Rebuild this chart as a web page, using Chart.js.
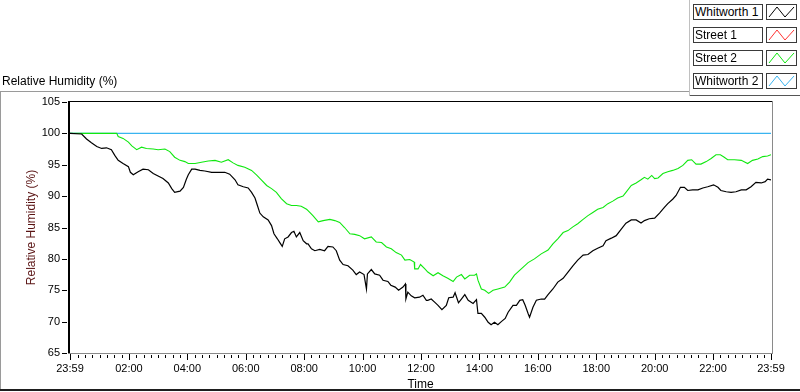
<!DOCTYPE html>
<html>
<head>
<meta charset="utf-8">
<script src="https://cdn.jsdelivr.net/npm/chart.js@4/dist/chart.umd.min.js"></script>
<style>
  html,body{margin:0;padding:0;background:#fff;}
  body{width:800px;height:392px;position:relative;overflow:hidden;font-family:"Liberation Sans",Arial,sans-serif;}
  #c{position:absolute;left:0;top:0;}
  .ln{position:absolute;}
  .title{position:absolute;left:2px;top:74px;font-size:12px;color:#000;line-height:14px;white-space:nowrap;}
  .lgText{position:absolute;left:693px;width:70px;height:16px;box-sizing:border-box;border:1px solid #3a3a3a;background:#fff;font-size:12px;line-height:14px;padding-left:1px;color:#000;white-space:nowrap;overflow:hidden;}
  .lgIcon{position:absolute;left:766px;width:31px;height:16px;box-sizing:border-box;border:1px solid #3a3a3a;background:#fff;}
  .lgIcon svg{position:absolute;left:0;top:0;}
</style>
</head>
<body>
<canvas id="c" width="800" height="392"></canvas>
<div class="title">Relative Humidity (%)</div>
<div class="ln" style="left:0;top:91px;width:689px;height:1px;background:#9a9a9a"></div>
<div class="ln" style="left:0;top:91px;width:1px;height:299px;background:#9a9a9a"></div>
<div class="ln" style="left:0;top:389px;width:800px;height:2px;background:#1e1e1e"></div>
<div class="ln" style="left:689px;top:0;width:1px;height:96px;background:#c0c0c0"></div>
<div class="ln" style="left:690px;top:95px;width:110px;height:1px;background:#555"></div>
<div id="legend"></div>
<script>
// ---- data (minutes after 00:00; -1 = 23:59 of previous day) ----
const seriesNames = ['Whitworth 1', 'Street 1', 'Street 2', 'Whitworth 2'];
const seriesColors = ['#000000', '#ff3333', '#10e810', '#3ab4f0'];

const whitworth1 = [[-1,100],[23,99.9],[33,99.1],[43,98.5],[54,97.9],[64,97.6],[74,97.7],[84,97.4],[91,96.5],[98,95.7],[108,95.2],[119,94.7],[123,93.8],[129,93.4],[139,93.9],[149,94.3],[160,94.2],[170,93.6],[180,93.2],[190,92.8],[201,92.1],[208,91.2],[214,90.6],[225,90.8],[232,91.4],[238,92.7],[242,93.4],[249,94.3],[256,94.3],[266,94.1],[276,94.0],[290,93.8],[303,93.8],[317,93.8],[327,93.5],[338,92.6],[344,91.8],[355,91.5],[365,91.3],[372,90.6],[379,89.7],[384,88.5],[389,87.3],[396,86.7],[406,86.2],[413,85.3],[418,84.0],[425,83.2],[430,82.6],[435,82.0],[440,83.2],[447,83.5],[454,84.2],[459,84.4],[464,83.5],[471,84.2],[478,82.9],[485,82.4],[488,82.4],[495,81.6],[502,81.3],[512,81.5],[522,81.3],[529,82.0],[539,81.9],[546,81.3],[553,79.8],[560,79.1],[570,78.9],[580,78.2],[587,77.5],[594,77.9],[603,77.5],[608,75.2],[610,77.6],[618,78.3],[625,77.6],[635,77.4],[642,76.6],[652,76.4],[658,75.8],[667,75.5],[674,75.0],[683,75.5],[688,76.0],[689,73.6],[693,74.7],[700,74.1],[707,73.8],[717,73.9],[724,74.2],[731,73.4],[734,73.4],[741,73.6],[748,73.1],[755,72.6],[763,71.9],[772,72.6],[777,73.8],[786,73.9],[790,74.6],[797,73.0],[803,73.6],[810,74.3],[817,73.4],[827,72.9],[834,73.5],[837,71.3],[844,71.3],[851,70.7],[858,69.9],[864,69.5],[871,69.9],[878,69.5],[885,70.0],[893,70.5],[899,71.5],[909,72.6],[916,72.6],[923,73.4],[929,73.5],[934,72.6],[940,71.3],[943,70.7],[950,72.3],[957,73.4],[967,73.6],[974,73.6],[981,74.3],[991,75.2],[1001,76.3],[1012,76.9],[1022,77.9],[1032,78.9],[1042,79.8],[1053,80.6],[1063,80.7],[1073,81.3],[1083,81.7],[1094,82.1],[1100,82.9],[1111,83.3],[1121,83.7],[1131,84.7],[1141,85.7],[1152,86.2],[1162,86.2],[1172,85.7],[1179,86.1],[1189,86.4],[1200,86.5],[1210,87.3],[1220,88.2],[1227,88.8],[1237,89.5],[1244,90.1],[1253,91.4],[1261,91.4],[1268,90.9],[1278,91.0],[1289,91.0],[1299,91.3],[1309,91.5],[1321,91.8],[1330,91.4],[1336,90.9],[1347,90.7],[1357,90.6],[1367,90.7],[1378,91.0],[1388,91.0],[1398,91.5],[1408,92.2],[1419,92.1],[1427,92.3],[1432,92.7],[1439,92.6]];

const street1 = [];

const street2 = [[-1,100],[95,100],[98,99.5],[108,99.2],[119,98.6],[126,98.0],[136,97.4],[146,97.8],[156,97.6],[170,97.5],[180,97.4],[194,97.5],[204,97.1],[214,96.2],[225,95.7],[235,95.5],[242,95.2],[256,95.2],[269,95.4],[283,95.6],[297,95.7],[310,95.4],[324,95.8],[334,95.3],[344,94.9],[358,94.6],[372,94.1],[382,93.4],[392,92.6],[403,91.7],[413,91.2],[423,90.6],[433,89.6],[444,88.8],[454,88.5],[464,88.5],[474,88.4],[485,87.9],[488,87.7],[498,86.9],[509,85.9],[519,86.1],[533,86.3],[543,86.1],[553,85.8],[563,85.0],[574,84.0],[584,83.9],[594,83.7],[604,83.2],[618,83.5],[628,82.7],[639,82.6],[649,81.9],[659,81.6],[669,81.0],[680,80.6],[687,79.8],[697,79.9],[706,79.5],[707,78.4],[714,78.4],[719,79.1],[728,78.4],[734,77.9],[745,77.3],[755,77.8],[765,77.3],[775,76.9],[786,76.4],[793,77.1],[803,77.5],[810,76.8],[820,77.4],[830,77.4],[834,77.6],[837,76.6],[844,75.2],[851,75.0],[859,74.5],[868,75.0],[878,75.2],[892,75.5],[902,76.3],[912,77.4],[926,78.4],[940,79.4],[953,80.0],[967,80.8],[981,81.4],[991,82.4],[1001,83.2],[1012,84.2],[1022,84.5],[1032,85.1],[1042,85.6],[1053,86.3],[1063,86.9],[1073,87.4],[1083,87.9],[1094,88.2],[1104,88.8],[1114,89.2],[1124,89.7],[1135,90.0],[1141,90.6],[1152,91.7],[1162,92.1],[1172,92.6],[1179,93.0],[1186,92.7],[1194,93.3],[1200,92.8],[1207,92.9],[1217,93.6],[1227,93.9],[1237,94.1],[1248,94.4],[1258,94.9],[1268,95.7],[1276,95.8],[1285,95.1],[1295,95.1],[1306,95.5],[1316,96.0],[1326,96.6],[1335,96.6],[1343,96.2],[1350,95.8],[1364,95.8],[1378,95.7],[1391,95.2],[1401,95.7],[1412,95.9],[1422,96.3],[1432,96.4],[1439,96.6]];

const whitworth2 = [[-1,100],[1439,100]];

const xTickMinutes = [-1,120,240,360,480,600,720,840,960,1080,1200,1320,1439];
const xTickLabels = ['23:59','02:00','04:00','06:00','08:00','10:00','12:00','14:00','16:00','18:00','20:00','22:00','23:59'];
const yMin = 65, yMax = 105, yStep = 5;

// ---- legend (HTML) ----
const lg = document.getElementById('legend');
seriesNames.forEach((n, i) => {
  const top = 4 + i * 23;
  const t = document.createElement('div');
  t.className = 'lgText'; t.style.top = top + 'px'; t.textContent = n;
  lg.appendChild(t);
  const ic = document.createElement('div');
  ic.className = 'lgIcon'; ic.style.top = top + 'px';
  ic.innerHTML = '<svg width="29" height="14"><polyline points="2,12 10,2 18,12 27,2" fill="none" stroke="' + seriesColors[i] + '" stroke-width="1"/></svg>';
  lg.appendChild(ic);
});

const FONT = '"Liberation Sans", Arial, sans-serif';
const toXY = arr => arr.map(p => ({x: p[0], y: p[1]}));
const allSeries = [whitworth1, street1, street2, whitworth2];

const framePlugin = {
  id: 'frame',
  afterDraw(chart) {
    const {ctx, chartArea: a, scales: {x, y}} = chart;
    ctx.save();
    ctx.fillStyle = '#8a8a8a';
    ctx.fillRect(a.left - 2, Math.round(a.bottom), a.right - a.left + 4, 1);
    ctx.fillRect(Math.round(a.right) + 1, a.top - 1, 1, a.bottom - a.top + 2);
    ctx.fillStyle = '#000';
    ctx.fillRect(a.left - 2, a.top - 1, a.right - a.left + 3, 1);
    ctx.fillRect(a.left - 2, a.top - 1, 2, a.bottom - a.top + 1);
    for (let v = yMin; v <= yMax; v += yStep) {
      const py = Math.round(y.getPixelForValue(v));
      ctx.fillRect(a.left - 8, py, 5, 1);
    }
    x.ticks.forEach(t => {
      const px = Math.round(x.getPixelForValue(t.value));
      const major = xTickMinutes.indexOf(t.value) >= 0;
      if (major) ctx.fillRect(px, Math.round(a.bottom) + 1, 1, 6);
      else ctx.fillRect(px, Math.round(a.bottom) + 2, 1, 3);
    });
    ctx.restore();
  }
};

new Chart(document.getElementById('c'), {
  type: 'line',
  data: {
    datasets: allSeries.map((s, i) => ({
      label: seriesNames[i],
      data: toXY(s),
      borderColor: seriesColors[i],
      backgroundColor: seriesColors[i],
      borderWidth: i === 0 ? 1.2 : 1.1,
      pointRadius: 0,
      tension: 0,
      fill: false
    }))
  },
  options: {
    responsive: false,
    animation: false,
    layout: {padding: {left: 0, top: 102, right: 29, bottom: 0}},
    plugins: {legend: {display: false}, tooltip: {enabled: false}},
    scales: {
      x: {
        type: 'linear',
        min: -1, max: 1439,
        grid: {display: false, drawTicks: false},
        border: {display: false},
        afterBuildTicks(scale) {
          const t = [{value: -1}];
          for (let m = 0; m < 1440; m += 15) t.push({value: m});
          t.push({value: 1439});
          scale.ticks = t;
        },
        afterFit(scale) { scale.height = 39; },
        ticks: {
          autoSkip: false, maxRotation: 0, minRotation: 0, padding: 9,
          color: '#000', font: {family: FONT, size: 11},
          callback: v => { const i = xTickMinutes.indexOf(v); return i >= 0 ? xTickLabels[i] : ''; }
        },
        title: {display: true, text: 'Time', color: '#000', font: {family: FONT, size: 12}, padding: {top: 0, bottom: 0}}
      },
      y: {
        min: yMin, max: yMax,
        grid: {display: false, drawTicks: false},
        border: {display: false},
        afterFit(scale) { scale.width = 70; },
        ticks: {stepSize: yStep, padding: 10, color: '#000', font: {family: FONT, size: 11}},
        title: {display: true, text: 'Relative Humidity (%)', color: '#5a1414', font: {family: FONT, size: 12}, padding: {top: 24, bottom: 0}}
      }
    }
  },
  plugins: [framePlugin]
});
</script>
</body>
</html>
